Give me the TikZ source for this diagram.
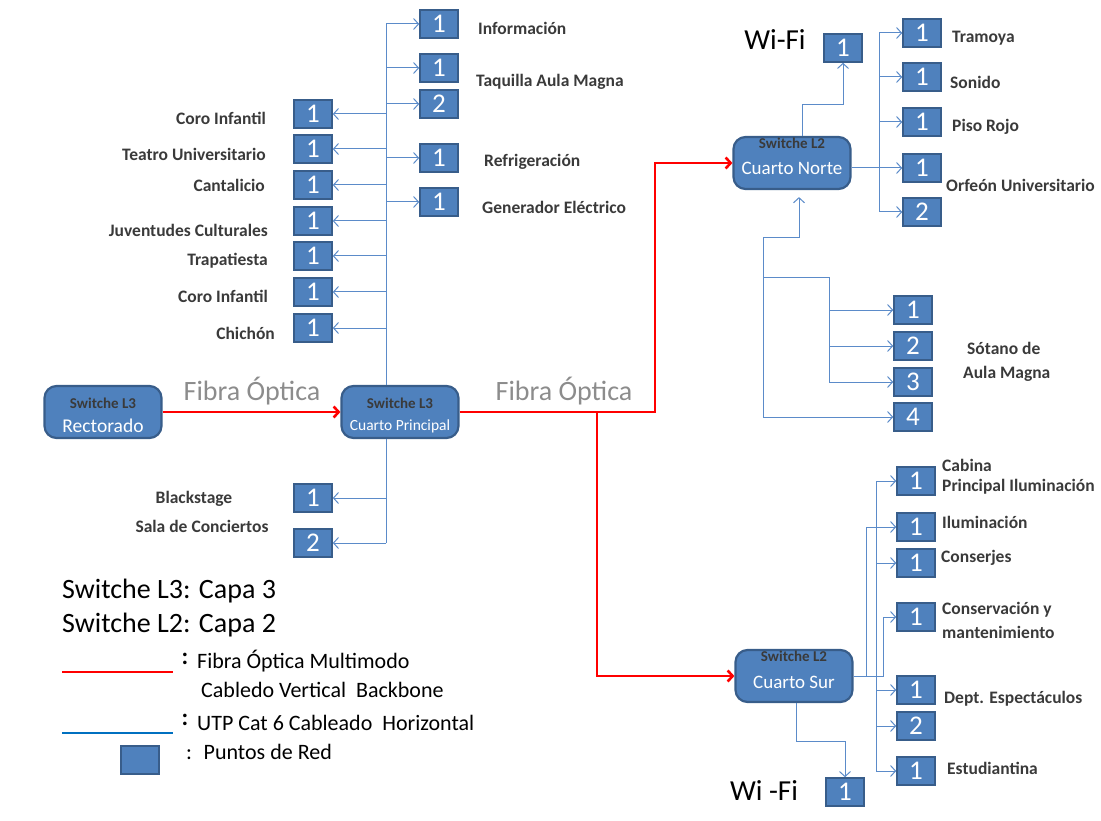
\documentclass[tikz,border=0pt]{standalone}
\usepackage{fontspec}
\setmainfont{Carlito}
\usetikzlibrary{arrows.meta}

\definecolor{boxfill}{HTML}{4F81BD}
\definecolor{boxborder}{HTML}{385D8A}
\definecolor{utpblue}{HTML}{5B8BC9}
\definecolor{legblue}{HTML}{0070C0}
\definecolor{labelgray}{HTML}{3A3A3A}
\definecolor{fibragray}{HTML}{8C8C8C}

\tikzset{
  punto/.style={draw=boxborder, line width=1.6pt, fill=boxfill, minimum width=38pt,
    minimum height=28pt, inner sep=0pt, text=white, font=\fontsize{27}{27}\selectfont},
  switchbox/.style={draw=boxborder, line width=2.2pt, fill=boxfill, rounded corners=12pt,
    minimum width=117pt, minimum height=52pt, inner sep=0pt},
  switchtipo/.style={font=\bfseries\fontsize{15}{15}\selectfont, text=labelgray},
  etiqueta/.style={font=\bfseries\fontsize{17.5}{20}\selectfont, text=labelgray, inner sep=0pt},
  utp/.style={draw=utpblue, line width=1pt},
  fibra/.style={draw=red, line width=2.6pt},
  leyenda/.style={font=\fontsize{22}{25}\selectfont, inner sep=0pt}
}

\begin{document}
\begin{tikzpicture}[x=1pt, y=-1pt, >={Straight Barb[length=5pt,width=11pt]}]
      \useasboundingbox (0,0) rectangle (1101,821);
      % Switches
      \node[switchbox] (rector) at (103,412) {};
      \node[switchtipo] at (103,403) {Switche L3};
      \node[font=\fontsize{19.5}{19.5}\selectfont, text=white] at (103,426) {Rectorado};
      \node[switchbox] (principal) at (400,412) {};
      \node[switchtipo] at (400,403) {Switche L3};
      \node[font=\fontsize{15.5}{15.5}\selectfont, text=white] at (400,426) {Cuarto Principal};
      \node[switchbox] (norte) at (792,163) {};
      \node[switchtipo] at (792,143) {Switche L2};
      \node[font=\fontsize{19}{19}\selectfont, text=white] at (792,168) {Cuarto Norte};
      \node[switchbox] (sur) at (794,676) {};
      \node[switchtipo] at (794,656) {Switche L2};
      \node[font=\fontsize{19}{19}\selectfont, text=white] at (794,682) {Cuarto Sur};

      % Fibra optica
      \node[font=\fontsize{28}{28}\selectfont, text=fibragray] (fibra1) at (252,391) {Fibra Óptica};
      \node[font=\fontsize{28}{28}\selectfont, text=fibragray] (fibra2) at (564,391) {Fibra Óptica};
      \coordinate (fa) at (597,0);
      \coordinate (fb) at (655,0);
      \draw[fibra, ->] (rector) -- (principal);
      \draw[fibra, ->] (principal.east) -| (fb |- norte.west) -- (norte.west);
      \draw[fibra, ->] (principal.east -| fa) |- (sur.west);

      % Cuarto Principal, arriba
      \coordinate (tr) at (386,0);
      \node[punto] (info) at (439,24) {1};
      \node[punto] (taq1) at (439,68) {1};
      \node[punto] (taq2) at (439,104) {2};
      \node[punto] (refri) at (439,158) {1};
      \node[punto] (gen) at (439,202) {1};
      \node[punto] (coro1) at (313,114) {1};
      \node[punto] (teatro) at (313,149) {1};
      \node[punto] (canta) at (313,185) {1};
      \node[punto] (juven) at (313,221) {1};
      \node[punto] (trapa) at (313,256) {1};
      \node[punto] (coro2) at (313,292) {1};
      \node[punto] (chichon) at (313,328) {1};
      \draw[utp] (principal.north -| tr) -- (info.west -| tr);
      \foreach \p in {info,taq1,taq2,refri,gen}
        \draw[utp, ->] (\p.west -| tr) -- (\p.west);
      \foreach \p in {coro1,teatro,canta,juven,trapa,coro2,chichon}
        \draw[utp, ->] (\p.east -| tr) -- (\p.east);
      \node[etiqueta, anchor=west] at (478,28) {Información};
      \node[etiqueta, anchor=west] at (476,82) {Taquilla Aula Magna};
      \node[etiqueta, anchor=west] at (484,162) {Refrigeración};
      \node[etiqueta, anchor=west] at (482,207) {Generador Eléctrico};
      \node[etiqueta, anchor=east] at (266,118) {Coro Infantil};
      \node[etiqueta, anchor=east] at (266,154) {Teatro Universitario};
      \node[etiqueta, anchor=east] at (265,185) {Cantalicio};
      \node[etiqueta, anchor=east] at (268,230) {Juventudes Culturales};
      \node[etiqueta, anchor=east] at (268,261) {Trapatiesta};
      \node[etiqueta, anchor=east] at (268,296) {Coro Infantil};
      \node[etiqueta, anchor=east] at (275,333) {Chichón};

      % Cuarto Principal, abajo
      \node[punto] (back1) at (313,498) {1};
      \node[punto] (back2) at (313,543) {2};
      \draw[utp] (principal.south -| tr) -- (back2.east -| tr);
      \draw[utp, ->] (back1.east -| tr) -- (back1.east);
      \draw[utp, ->] (back2.east -| tr) -- (back2.east);
      \node[etiqueta] at (194,499) {Blackstage};
      \node[etiqueta] at (202,526) {Sala de Conciertos};

      % Cuarto Norte
      \node[font=\fontsize{29}{29}\selectfont] (wifin) at (775,40) {Wi-Fi};
      \node[punto] (wifinbox) at (843,48) {1};
      \draw[utp, ->] ([xshift=10pt]norte.north) -- ++(0,-31) -| (wifinbox.south);
      \coordinate (nr) at (879,0);
      \node[punto] (tramoya) at (922,33) {1};
      \node[punto] (sonido) at (922,77) {1};
      \node[punto] (piso) at (922,122) {1};
      \node[punto] (orfeon1) at (922,168) {1};
      \node[punto] (orfeon2) at (922,212) {2};
      \draw[utp] (tramoya.west -| nr) -- (orfeon2.west -| nr);
      \foreach \p in {tramoya,sonido,piso,orfeon2}
        \draw[utp, ->] (\p.west -| nr) -- (\p.west);
      \draw[utp, ->] (norte.east |- orfeon1.west) -- (orfeon1.west);
      \node[etiqueta, anchor=west] at (952,38) {Tramoya};
      \node[etiqueta, anchor=west] at (950,82) {Sonido};
      \node[etiqueta, anchor=west] at (952,127) {Piso Rojo};
      \node[etiqueta, anchor=west] at (946,185) {Orfeón Universitario};

      % Sotano de Aula Magna
      \node[punto] (sotano1) at (913,310) {1};
      \node[punto] (sotano2) at (913,346) {2};
      \node[punto] (sotano3) at (913,382) {3};
      \node[punto] (sotano4) at (913,417) {4};
      \coordinate (sx) at (763,278);
      \coordinate (sy) at (829,278);
      \coordinate (nb) at (799,238);
      \draw[utp, ->, shorten >=7pt] (sotano4.west -| sx) |- (nb) -- (nb |- norte.south);
      \draw[utp, ->] (sotano4.west -| sx) -- (sotano4.west);
      \draw[utp] (sx) -- (sy) -- (sotano3.west -| sy);
      \foreach \p in {sotano1,sotano2,sotano3}
        \draw[utp, ->] (\p.west -| sy) -- (\p.west);
      \node[etiqueta, anchor=west] at (967,348) {Sótano de};
      \node[etiqueta, anchor=west] at (963,374) {Aula Magna};

      % Cuarto Sur
      \coordinate (su1) at (866,0);
      \coordinate (su2) at (876,0);
      \coordinate (su3) at (883,0);
      \node[punto] (cabina) at (916,481) {1};
      \node[punto] (ilum) at (916,527) {1};
      \node[punto] (conserj) at (916,563) {1};
      \node[punto] (conserv) at (916,617) {1};
      \node[punto] (dept1) at (916,690) {1};
      \node[punto] (dept2) at (916,726) {2};
      \node[punto] (estud) at (916,771) {1};
      \draw[utp, ->] (sur.east) -| (su3 |- conserv.west) -- (conserv.west);
      \draw[utp, ->] (sur.east) -| (su1 |- ilum.west) -- (ilum.west);
      \draw[utp] (su2 |- cabina.west) -- (su2 |- estud.west);
      \foreach \p in {cabina,conserj,dept1,dept2,estud}
        \draw[utp, ->] (su2 |- \p.west) -- (\p.west);
      \node[etiqueta, anchor=west] at (942,465) {Cabina};
      \node[etiqueta, anchor=west] at (942,487) {Principal Iluminación};
      \node[etiqueta, anchor=west] at (942,522) {Iluminación};
      \node[etiqueta, anchor=west] at (941,558) {Conserjes};
      \node[etiqueta, anchor=west] at (942,610) {Conservación y};
      \node[etiqueta, anchor=west] at (942,632) {mantenimiento};
      \node[etiqueta, anchor=west] at (944,699) {Dept. Espectáculos};
      \node[etiqueta, anchor=west] at (947,768) {Estudiantina};
      \node[punto] (wifisbox) at (845,792) {1};
      \node[font=\fontsize{29}{29}\selectfont] (wifis) at (764,791) {Wi -Fi};
      \draw[utp, ->] ([xshift=2pt]sur.south) -- ++(0,38) -| (wifisbox.north);

      % Leyenda
      \node[font=\fontsize{28}{28}\selectfont, anchor=west, inner sep=0pt] (capa3) at (62,591) {Switche L3: Capa 3};
      \node[font=\fontsize{28}{28}\selectfont, anchor=west, inner sep=0pt] (capa2) at (62,625) {Switche L2: Capa 2};
      \coordinate (lr1) at (62,672);
      \coordinate (lr2) at (173,672);
      \draw[red, line width=2pt] (lr1) -- (lr2);
      \node[font=\bfseries\fontsize{24}{24}\selectfont] at (185,659) {:};
      \node[leyenda, anchor=west] (leyfibra) at (197,661) {Fibra Óptica Multimodo};
      \node[leyenda, anchor=west] at (201,690) {Cabledo Vertical~ Backbone};
      \coordinate (lb1) at (62,733);
      \coordinate (lb2) at (173,733);
      \draw[legblue, line width=2pt] (lb1) -- (lb2);
      \node[font=\bfseries\fontsize{24}{24}\selectfont] at (185,720) {:};
      \node[leyenda, anchor=west] (leyutp) at (197,723) {UTP Cat 6 Cableado~ Horizontal};
      \node[punto] (leybox) at (140,760) {};
      \node[leyenda, anchor=west] (leypunto) at (186,752) {:~ Puntos de Red};
    \end{tikzpicture}
\end{document}
